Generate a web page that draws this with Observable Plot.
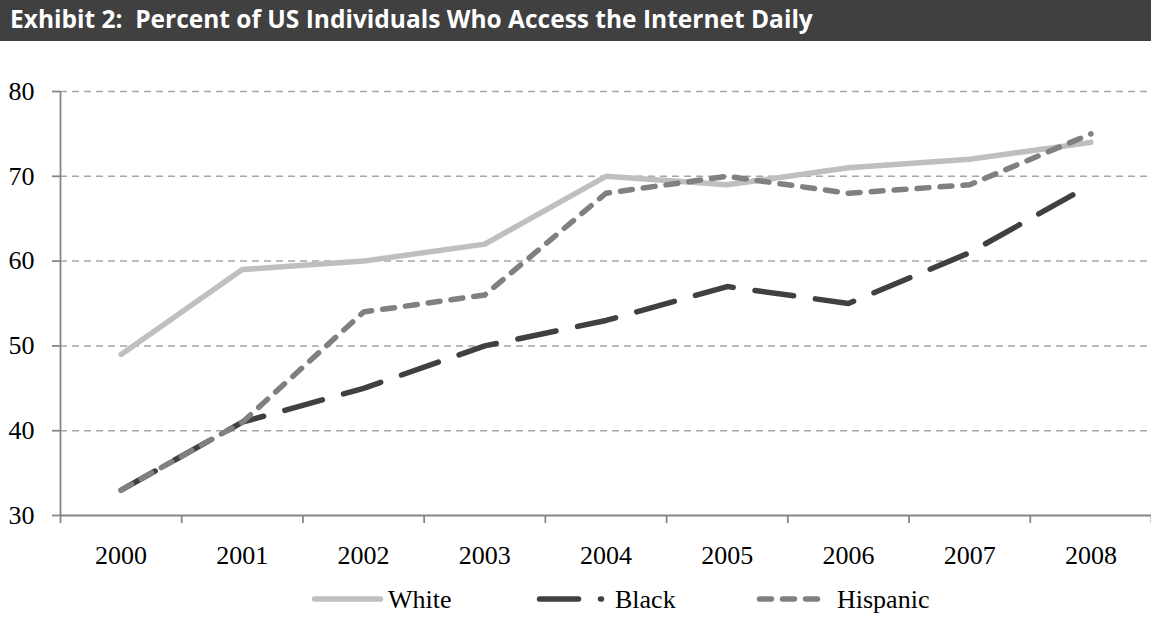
<!DOCTYPE html>
<html>
<head>
<meta charset="utf-8">
<script src="https://cdn.jsdelivr.net/npm/d3@7"></script>
<script src="https://cdn.jsdelivr.net/npm/@observablehq/plot@0.6"></script>
<style>
  body { margin: 0; background: #fff; width: 1151px; overflow: hidden; }
  .title {
    height: 41px; background: #404040; color: #fff;
    font: bold 24.5px "Open Sans", sans-serif; line-height: 37px;
    padding-left: 10px; white-space: pre; box-sizing: border-box;
  }
  #chart svg, #legend svg { display: block; }
</style>
</head>
<body>
<div class="title">Exhibit 2:  Percent of US Individuals Who Access the Internet Daily</div>
<div id="chart"></div>
<div id="legend"></div>
<script>
// Share of individuals going online every day, by group (%)
const years    = [2000, 2001, 2002, 2003, 2004, 2005, 2006, 2007, 2008];
const white    = [49, 59, 60, 62, 70, 69, 71, 72, 74];
const black    = [33, 41, 45, 50, 53, 57, 55, 61, 69];
const hispanic = [33, 41, 54, 56, 68, 70, 68, 69, 75];
const yTicks   = [30, 40, 50, 60, 70, 80];

const seriesNames  = ["White", "Black", "Hispanic"];
const seriesValues = [white, black, hispanic];
const seriesColors = ["#bfbfbf", "#404040", "#808080"];
const seriesDashes = [null, "39,22", "12,11"];
const lineWidth = 5.5;

const series = seriesNames.map((name, k) => ({
  name,
  color: seriesColors[k],
  dash: seriesDashes[k],
  rows: years.map((year, i) => ({ year, value: seriesValues[k][i] }))
}));

// category boundaries between years, for the x-axis tick marks
const boundaries = d3.range(years.length + 1).map(i => years[0] - 0.5 + i);
const axisColor = "#868686";

const chart = Plot.plot({
  width: 1151,
  height: 540,
  marginLeft: 60,
  marginRight: 0,
  marginTop: 50,
  marginBottom: 66,
  style: { fontFamily: '"Liberation Serif", "Times New Roman", serif', fontSize: "26px", background: "#fff", color: "#000" },
  x: { domain: [boundaries[0], boundaries[boundaries.length - 1]] },
  y: { domain: [yTicks[0], yTicks[yTicks.length - 1]] },
  marks: [
    // dashed horizontal gridlines
    Plot.ruleY(yTicks.slice(1), { stroke: "#a6a6a6", strokeWidth: 1.5, strokeDasharray: "7,5" }),
    // value axis
    Plot.ruleX([boundaries[0]], { y1: yTicks[0], y2: yTicks[yTicks.length - 1], stroke: axisColor, strokeWidth: 1.8 }),
    Plot.axisY({ ticks: yTicks, tickSize: 8, tickPadding: 18, stroke: axisColor, strokeWidth: 1.8, fill: "#000", label: null }),
    // category axis
    Plot.ruleY([yTicks[0]], { stroke: axisColor, strokeWidth: 1.8 }),
    Plot.axisX({ ticks: boundaries, tickSize: 8, tickFormat: () => "", stroke: axisColor, strokeWidth: 1.8, label: null }),
    Plot.axisX({ ticks: years, tickSize: 0, tickPadding: 30, tickFormat: d => String(d), fill: "#000", label: null }),
    // one line per group
    ...series.map(s => Plot.line(s.rows, {
      x: "year", y: "value",
      stroke: s.color, strokeWidth: lineWidth,
      strokeDasharray: s.dash, strokeLinecap: "round", strokeLinejoin: "round"
    }))
  ]
});
document.getElementById("chart").appendChild(chart);

// legend row below the chart
const legendItems = [
  { x1: 314.5, x2: 380.5, tx: 388 },
  { x1: 539.5, x2: 601.5, tx: 615 },
  { x1: 759.5, x2: 817.5, tx: 837 }
];
const legend = d3.select("#legend").append("svg").attr("width", 1151).attr("height", 40);
series.forEach((s, k) => {
  const it = legendItems[k];
  legend.append("line")
    .attr("x1", it.x1).attr("x2", it.x2).attr("y1", 18).attr("y2", 18)
    .attr("stroke", s.color).attr("stroke-width", lineWidth)
    .attr("stroke-linecap", "round")
    .attr("stroke-dasharray", s.dash);
  legend.append("text")
    .attr("x", it.tx).attr("y", 18).attr("dy", "0.35em")
    .attr("font-family", '"Liberation Serif", "Times New Roman", serif')
    .attr("font-size", 26).attr("fill", "#000")
    .text(s.name);
});
</script>
</body>
</html>
